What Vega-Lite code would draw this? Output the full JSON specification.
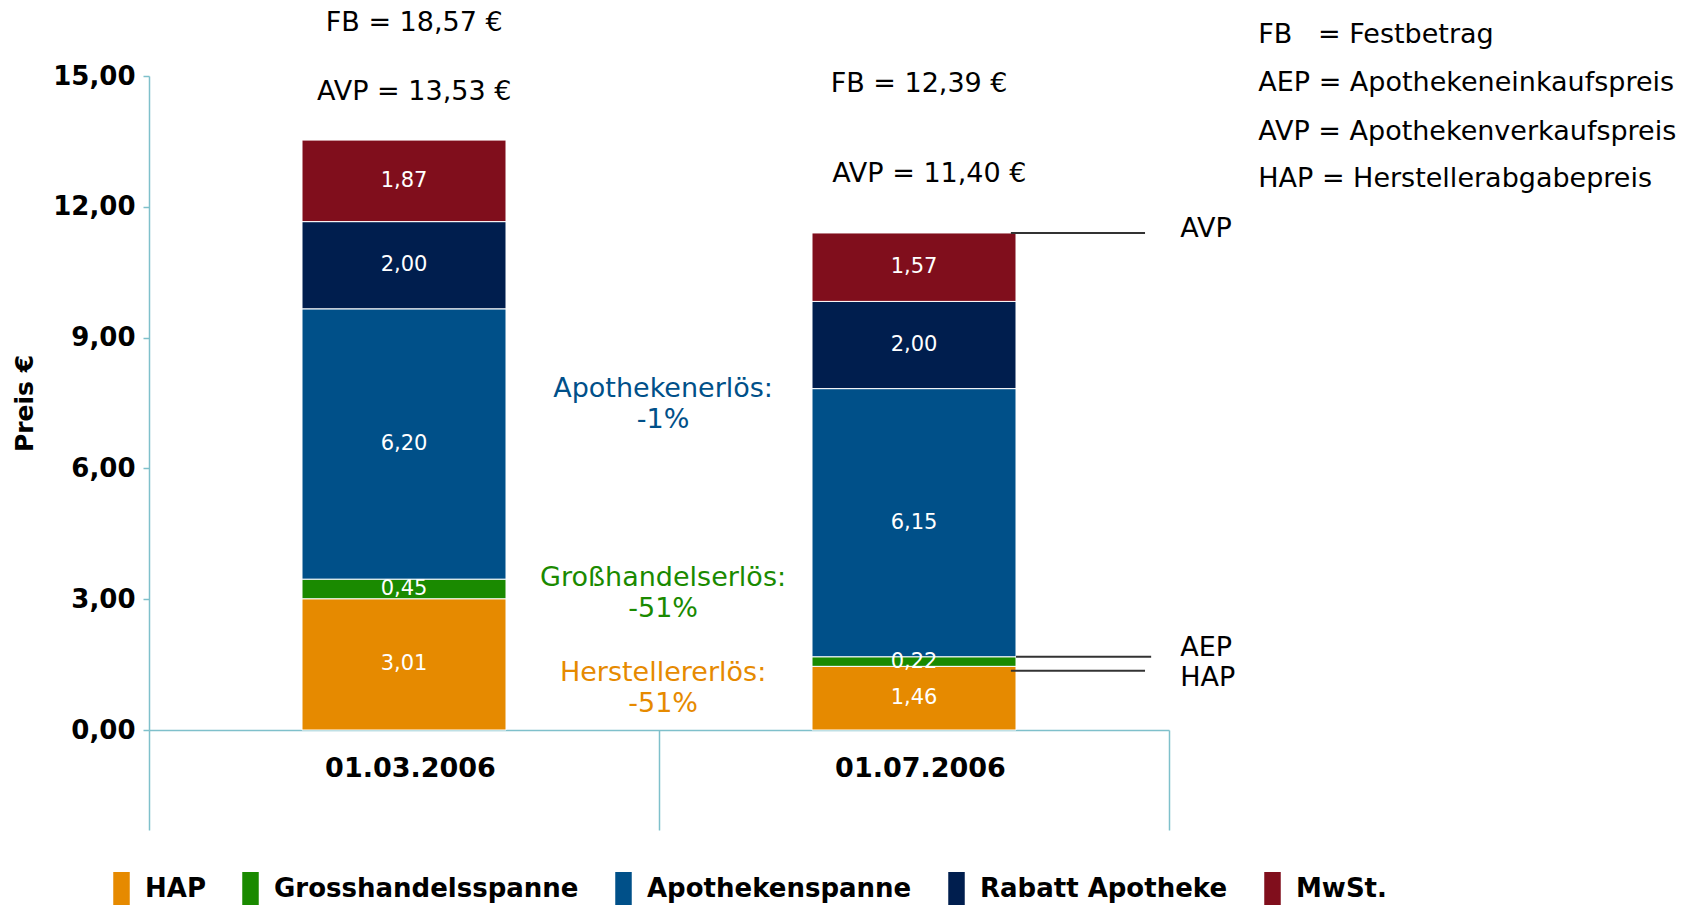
{
  "$schema": "https://vega.github.io/schema/vega-lite/v6.json",
  "width": 1020,
  "height": 654,
  "autosize": {"type": "none"},
  "padding": {"left": 149, "top": 76, "right": 524, "bottom": 175},
  "background": "white",
  "config": {
    "locale": {"number": {"decimal": ",", "thousands": ".", "grouping": [3], "currency": ["", " €"]}},
    "font": "DejaVu Sans",
    "view": {"stroke": null}
  },
  "datasets": {
    "bars": [
      {"date": "01.03.2006", "component": "HAP", "value": 3.01, "ord": 1},
      {"date": "01.03.2006", "component": "Grosshandelsspanne", "value": 0.45, "ord": 2},
      {"date": "01.03.2006", "component": "Apothekenspanne", "value": 6.20, "ord": 3},
      {"date": "01.03.2006", "component": "Rabatt Apotheke", "value": 2.00, "ord": 4},
      {"date": "01.03.2006", "component": "MwSt.", "value": 1.87, "ord": 5},
      {"date": "01.07.2006", "component": "HAP", "value": 1.46, "ord": 1},
      {"date": "01.07.2006", "component": "Grosshandelsspanne", "value": 0.22, "ord": 2},
      {"date": "01.07.2006", "component": "Apothekenspanne", "value": 6.15, "ord": 3},
      {"date": "01.07.2006", "component": "Rabatt Apotheke", "value": 2.00, "ord": 4},
      {"date": "01.07.2006", "component": "MwSt.", "value": 1.57, "ord": 5}
    ],
    "topnotes": [
      {"label": "FB = 18,57 €", "ax": 0.52, "ay": 16.22},
      {"label": "AVP = 13,53 €", "ax": 0.52, "ay": 14.64},
      {"label": "FB = 12,39 €", "ax": 1.51, "ay": 14.82},
      {"label": "AVP = 11,40 €", "ax": 1.53, "ay": 12.76}
    ],
    "sidenotes": [
      {"label": "FB\u00a0\u00a0\u00a0= Festbetrag", "ax": 2.175, "ay": 15.94},
      {"label": "AEP = Apothekeneinkaufspreis", "ax": 2.175, "ay": 14.84},
      {"label": "AVP = Apothekenverkaufspreis", "ax": 2.175, "ay": 13.71},
      {"label": "HAP = Herstellerabgabepreis", "ax": 2.175, "ay": 12.63},
      {"label": "AVP", "ax": 2.022, "ay": 11.50},
      {"label": "AEP", "ax": 2.022, "ay": 1.87},
      {"label": "HAP", "ax": 2.022, "ay": 1.20}
    ],
    "changes": [
      {"component": "Apothekenspanne", "label": "Apothekenerlös:\n-1%", "ax": 1.008, "ay": 7.82},
      {"component": "Grosshandelsspanne", "label": "Großhandelserlös:\n-51%", "ax": 1.008, "ay": 3.49},
      {"component": "HAP", "label": "Herstellererlös:\n-51%", "ax": 1.008, "ay": 1.31}
    ],
    "leaders": [
      {"name": "AVP", "ax": 1.69, "ax2": 1.953, "ay": 11.40},
      {"name": "AEP", "ax": 1.7, "ax2": 1.965, "ay": 1.68},
      {"name": "HAP", "ax": 1.69, "ax2": 1.953, "ay": 1.36}
    ]
  },
  "resolve": {"scale": {"x": "independent"}, "axis": {"x": "independent"}},
  "layer": [
    {
      "data": {"name": "bars"},
      "layer": [
        {
          "mark": {"type": "bar", "stroke": "white", "strokeWidth": 1, "width": {"band": 0.4}},
          "encoding": {
            "x": {
              "field": "date", "type": "nominal",
              "scale": {"paddingInner": 0, "paddingOuter": 0},
              "axis": {
                "title": null, "labelAngle": 0, "labelFontWeight": "bold", "labelFontSize": 27,
                "labelColor": "#000000", "labelPadding": -75, "labelOffset": 6,
                "domainColor": "#7fc0cb", "domainWidth": 1.5,
                "tickColor": "#7fc0cb", "tickWidth": 1.5, "tickSize": 100, "tickBand": "extent"
              }
            },
            "y": {
              "field": "value", "type": "quantitative", "stack": "zero",
              "scale": {"domain": [0, 15], "nice": false},
              "axis": {
                "title": "Preis €", "titleFontSize": 25, "titleFontWeight": "bold", "titleColor": "#000000",
                "titlePadding": 15, "values": [0, 3, 6, 9, 12, 15], "format": ".2f",
                "labelFontSize": 26, "labelFontWeight": "bold", "labelColor": "#000000", "labelPadding": 8,
                "tickSize": 6, "tickColor": "#7fc0cb", "tickWidth": 1.5,
                "domainColor": "#7fc0cb", "domainWidth": 1.5, "grid": false
              }
            },
            "color": {
              "field": "component", "type": "nominal",
              "scale": {
                "domain": ["HAP", "Grosshandelsspanne", "Apothekenspanne", "Rabatt Apotheke", "MwSt."],
                "range": ["#e68a00", "#1a8a00", "#005089", "#001e4e", "#800e1c"]
              },
              "legend": {
                "title": null, "orient": "none", "legendX": -44, "legendY": 796, "direction": "horizontal",
                "padding": 0, "symbolType": "M-0.5,-1H0.5V1H-0.5Z", "symbolSize": 1089, "symbolStrokeWidth": 0,
                "symbolOpacity": 1, "labelFontSize": 26, "labelFontWeight": "bold", "labelColor": "#000000",
                "labelOffset": 7, "columnPadding": 28, "labelLimit": 500
              }
            },
            "order": {"field": "ord", "type": "quantitative", "sort": "ascending"}
          }
        },
        {
          "transform": [
            {"stack": "value", "groupby": ["date"], "sort": [{"field": "ord", "order": "ascending"}], "as": ["v0", "v1"]},
            {"calculate": "(datum.v0 + datum.v1) / 2", "as": "mid"}
          ],
          "mark": {"type": "text", "color": "white", "fontSize": 21, "baseline": "middle", "align": "center", "clip": false},
          "encoding": {
            "x": {"field": "date", "type": "nominal", "scale": {"paddingInner": 0, "paddingOuter": 0}},
            "y": {"field": "mid", "type": "quantitative", "scale": {"domain": [0, 15], "nice": false}},
            "text": {"field": "value", "type": "quantitative", "format": ".2f"}
          }
        }
      ]
    },
    {
      "layer": [
        {
          "data": {"name": "topnotes"},
          "mark": {"type": "text", "fontSize": 27, "align": "center", "baseline": "middle", "color": "#000000", "clip": false},
          "encoding": {
            "x": {"field": "ax", "type": "quantitative", "scale": {"domain": [0, 2], "nice": false, "zero": false}, "axis": null},
            "y": {"field": "ay", "type": "quantitative", "scale": {"domain": [0, 15], "nice": false}},
            "text": {"field": "label", "type": "nominal"}
          }
        },
        {
          "data": {"name": "sidenotes"},
          "mark": {"type": "text", "fontSize": 27, "align": "left", "baseline": "middle", "color": "#000000", "clip": false},
          "encoding": {
            "x": {"field": "ax", "type": "quantitative", "scale": {"domain": [0, 2], "nice": false, "zero": false}, "axis": null},
            "y": {"field": "ay", "type": "quantitative", "scale": {"domain": [0, 15], "nice": false}},
            "text": {"field": "label", "type": "nominal"}
          }
        },
        {
          "data": {"name": "changes"},
          "mark": {"type": "text", "fontSize": 27, "align": "center", "baseline": "middle", "lineBreak": "\n", "lineHeight": 31, "clip": false},
          "encoding": {
            "x": {"field": "ax", "type": "quantitative", "scale": {"domain": [0, 2], "nice": false, "zero": false}, "axis": null},
            "y": {"field": "ay", "type": "quantitative", "scale": {"domain": [0, 15], "nice": false}},
            "text": {"field": "label", "type": "nominal"},
            "color": {"field": "component", "type": "nominal"}
          }
        },
        {
          "data": {"name": "leaders"},
          "mark": {"type": "rule", "color": "#333333", "strokeWidth": 2, "clip": false},
          "encoding": {
            "x": {"field": "ax", "type": "quantitative", "scale": {"domain": [0, 2], "nice": false, "zero": false}, "axis": null},
            "x2": {"field": "ax2"},
            "y": {"field": "ay", "type": "quantitative", "scale": {"domain": [0, 15], "nice": false}}
          }
        }
      ]
    }
  ]
}
